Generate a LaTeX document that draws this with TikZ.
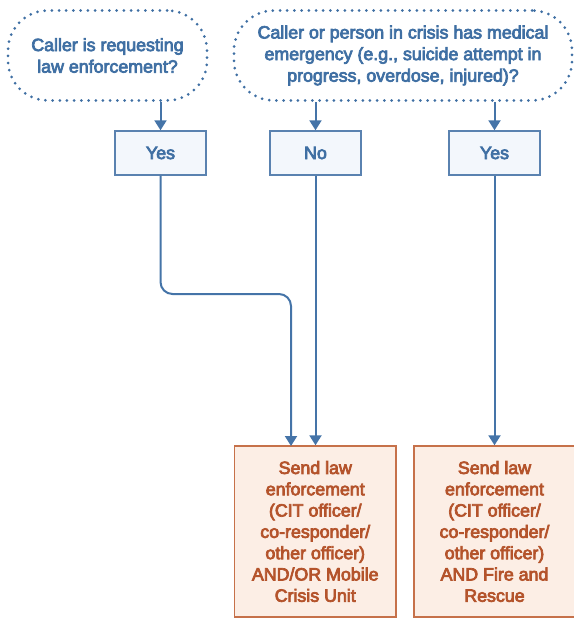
\documentclass[tikz,border=0pt]{standalone}
\usepackage{fontspec}
\setmainfont{Liberation Sans}
% upright face thickened a little, for a medium weight
\newfontfamily\medfont[FakeBold=4]{Liberation Sans}
\usetikzlibrary{arrows.meta}
\definecolor{qblue}{HTML}{3F6FA3}
\definecolor{lineblue}{HTML}{4574A8}
\definecolor{boxblue}{HTML}{5A82B0}
\definecolor{fillblue}{HTML}{F3F7FC}
\definecolor{edgeorange}{HTML}{C6714A}
\definecolor{fillorange}{HTML}{FCEEE5}
\definecolor{textorange}{HTML}{B4532B}
\tikzset{
  question/.style={draw=qblue, line width=3pt, dash pattern=on 0pt off 7.2pt,
    line cap=round, rounded corners=40pt, text=qblue, align=center,
    font=\medfont\fontsize{17.8}{21.6}\selectfont, inner sep=0pt},
  answer/.style={draw=boxblue, line width=1.4pt, fill=fillblue, text=qblue,
    minimum width=91pt, minimum height=44pt, inner sep=0pt,
    font=\medfont\fontsize{17.8}{21}\selectfont},
  action/.style={draw=edgeorange, line width=1.4pt, fill=fillorange, text=textorange,
    align=center, minimum height=171pt, inner sep=0pt,
    font=\medfont\fontsize{17.8}{21.3}\selectfont},
  flow/.style={draw=lineblue, line width=2pt, -{Triangle[width=12pt,length=10pt]}}
}
\begin{document}
\begin{tikzpicture}[x=1pt,y=-1pt]
\useasboundingbox (0,0) rectangle (573,618);

% decision questions
\node[question, minimum width=199pt, minimum height=90pt] (q1) at (107.5,55.5)
  {Caller is requesting\\law enforcement?};
\node[question, minimum width=338pt, minimum height=90pt] (q2) at (403,55.5)
  {Caller or person in crisis has medical\\emergency (e.g., suicide attempt in\\progress, overdose, injured)?};

% answers
\node[answer] (yes1) at (160.5,153) {Yes};
\node[answer] (no) at (315.5,153) {No};
\node[answer] (yes2) at (494.5,153) {Yes};

% dispatch actions
\node[action, minimum width=161.5pt] (act1) at (315.25,531.5)
  {Send law\\enforcement\\(CIT officer/\\co-responder/\\other officer)\\AND/OR Mobile\\Crisis Unit};
\node[action, minimum width=161pt] (act2) at (494.5,531.5)
  {Send law\\enforcement\\(CIT officer/\\co-responder/\\other officer)\\AND Fire and\\Rescue};

% connectors
\draw[flow] (yes1 |- q1.south) -- (yes1.north);
\draw[flow] (no |- q2.south) -- (no.north);
\draw[flow] (yes2 |- q2.south) -- (yes2.north);

\coordinate (drop) at (291,446);
\draw[flow, rounded corners=12pt] (yes1.south) -- (yes1.south |- 0,294) -- (drop |- 0,294) -- (drop);
\draw[flow] (no.south) -- (no.south |- act1.north);
\draw[flow] (yes2.south) -- (act2.north);
\end{tikzpicture}
\end{document}
